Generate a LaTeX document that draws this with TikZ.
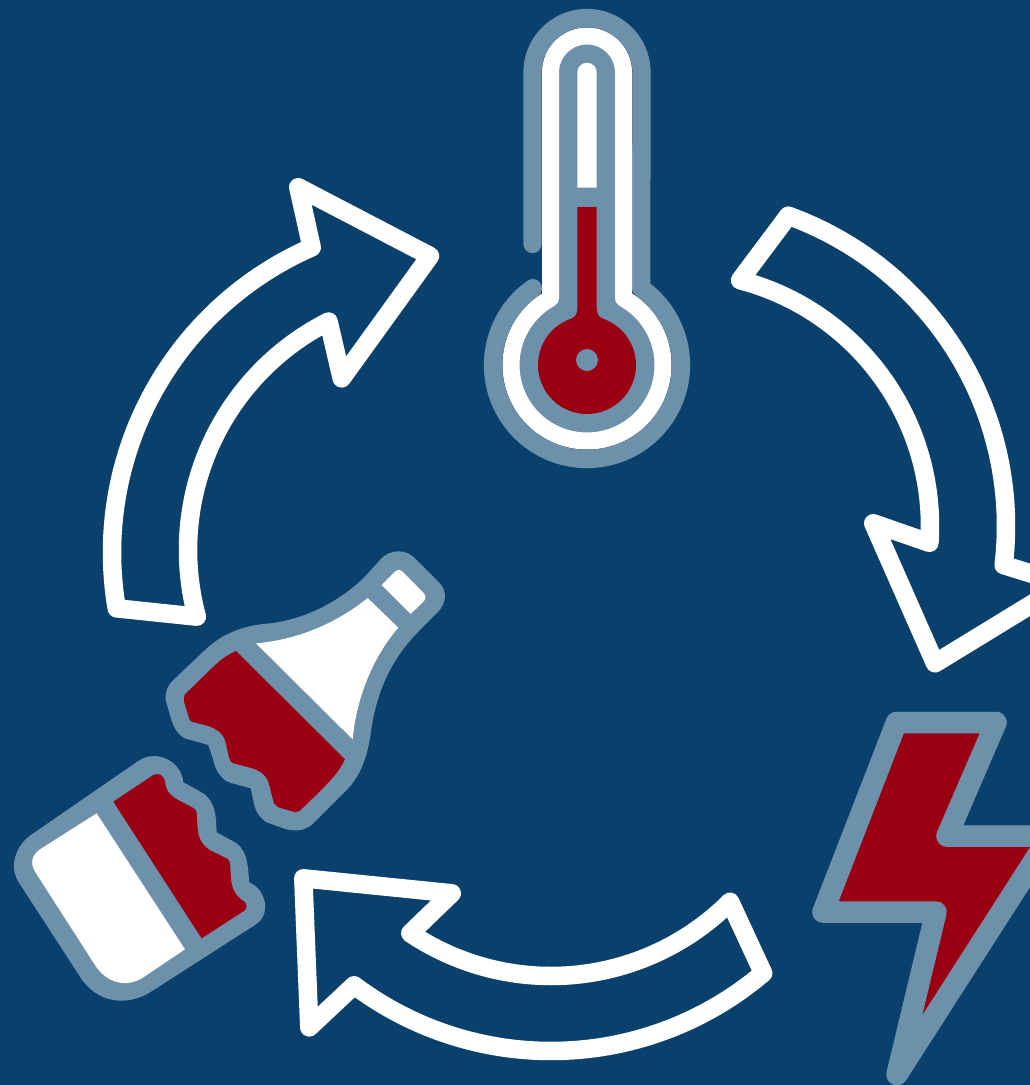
\documentclass[tikz,border=0pt]{standalone}
\usepackage{xcolor}
\usepackage{tikz}
\definecolor{navy}{HTML}{0A416C}
\definecolor{steel}{HTML}{6D91AA}
\definecolor{crimson}{HTML}{9B0012}
\tikzset{
  flow/.style={draw=white,line width=18.5pt,line join=round,line cap=round},
  tube/.style={line width=18.3pt,line join=round,line cap=round},
  arcplot/.style={domain=#1,samples=60,smooth}
}
\begin{document}
\begin{tikzpicture}[x=1pt,y=-1pt]
  \useasboundingbox (0,0) rectangle (1030,1085);
  \clip (0,0) rectangle (1030,1085);
  \fill[navy] (0,0) rectangle (1030,1085);

  \draw[flow] plot[arcplot=170.35:246.4] ({445+333*cos(\x)},{552.5+333*sin(\x)}) -- (298.3,187.3) -- (430,256) -- (341.7,378.3)
    -- plot[arcplot=243.2:164.9] ({444+256*cos(\x)},{550+256*sin(\x)}) -- cycle;
  \draw[flow] plot[arcplot=-70.1:6.8] ({676+330*cos(\x)},{526+330*sin(\x)}) -- (1064.7,584) -- (935,663.3) -- (873.3,523.3)
    -- plot[arcplot=3.8:-75.4] ({676+254*cos(\x)},{526+254*sin(\x)}) -- cycle;
  \draw[flow] plot[arcplot=49.7:126.9] ({551+328*cos(\x)},{723+328*sin(\x)}) -- (309.3,1027.3) -- (303.3,878.3) -- (451.7,893.3)
    -- plot[arcplot=123.8:44.95] ({551+253*cos(\x)},{723+253*sin(\x)}) -- cycle;

  \draw[tube,steel] (532.5,244) -- (532.5,72.5) -- plot[arcplot=180:360] ({587+54.5*cos(\x)},{72.5+54.5*sin(\x)})
    -- plot[arcplot=-54.8:234.8] ({587+94*cos(\x)},{365+94*sin(\x)});
  \filldraw[fill=steel,draw=white,line width=17pt,line join=round] plot[arcplot=-61.3:241.3] ({587+76*cos(\x)},{365+76*sin(\x)})
    -- plot[arcplot=180:360] ({587+36.5*cos(\x)},{72.5+36.5*sin(\x)}) -- cycle;
  \fill[white] (577.3,187.7) -- (577.3,72.4) arc[start angle=180,end angle=0,radius=9.7pt] -- (596.7,187.7) -- cycle;
  \fill[crimson] (587,365) circle[radius=49pt];
  \fill[crimson] (577.3,207) -- (577.3,309) .. controls (577.3,314) and (575,317) .. (571.5,318.5) -- (571.5,330) -- (602.5,330) -- (602.5,318.5)
    .. controls (599,317) and (596.7,314) .. (596.7,309) -- (596.7,207) -- cycle;
  \fill[steel] (587,360) circle[radius=11pt];

  \filldraw[fill=crimson,draw=steel,line width=21.5pt,line join=round] (896.5,722.5) -- (996,722.5) -- (947,836) -- (1050,836)
    -- (897,1074.5) -- (936,912) -- (823,912) -- cycle;

  \begin{scope}[shift={(150,540)},x=0.3333pt,y=-0.3333pt]
    \fill[steel] (690,60) .. controls (720,25) and (770,25) .. (800,60) -- (865,125) .. controls (895,155) and (890,190) .. (860,220)
      -- (810,270) .. controls (730,350) and (685,440) .. (665,560) .. controls (655,650) and (630,710) .. (590,750) -- (490,850)
      .. controls (465,875) and (430,875) .. (400,865) -- (365,852) .. controls (335,845) and (320,820) .. (313,795) -- (302,745)
      -- (240,728) .. controls (215,720) and (195,690) .. (190,660) -- (175,615) -- (105,595) .. controls (85,585) and (70,565) .. (60,525)
      -- (47,480) .. controls (45,460) and (50,440) .. (70,420) -- (160,335) .. controls (210,285) and (270,260) .. (340,252)
      .. controls (440,245) and (550,200) .. (640,115) -- cycle;
    \fill[white] (318,310) .. controls (440,300) and (560,250) .. (653,174) -- (745,263) .. controls (670,350) and (620,470) .. (608,598) -- cycle;
    \fill[crimson] (258,333) -- (585,658) .. controls (565,700) and (540,725) .. (450,812) .. controls (445,817) .. (437,817) -- (385,802)
      .. controls (377,798) .. (372,790) -- (355,725) .. controls (345,700) and (325,690) .. (300,683) -- (250,670)
      .. controls (242,665) .. (238,655) -- (225,600) .. controls (215,575) and (195,565) .. (175,558) -- (125,545)
      .. controls (118,540) .. (116,530) -- (102,485) .. controls (100,475) .. (103,465) -- (185,385) .. controls (205,365) and (230,345) .. (258,333) -- cycle;
    \fill[white] (695,135) -- (735,95) .. controls (743,88) and (750,88) .. (756,93) -- (822,160) .. controls (828,168) and (828,175) .. (823,182) -- (782,222) -- cycle;
  \end{scope}

  \begin{scope}[shift={(0,745)},x=0.3333pt,y=-0.3333pt]
    \fill[steel] (100,265) -- (415,48) .. controls (470,10) and (545,50) .. (550,112) -- (605,142) .. controls (635,160) and (645,190) .. (648,225)
      -- (650,262) -- (705,292) .. controls (735,310) and (742,345) .. (745,380) -- (748,412) .. controls (800,435) and (815,510) .. (765,540)
      -- (450,742) .. controls (380,785) and (290,775) .. (240,695) -- (55,410) .. controls (25,360) and (50,295) .. (100,265) -- cycle;
    \fill[white] (290,205) -- (120,313) .. controls (95,330) and (90,355) .. (105,380) -- (285,660) .. controls (320,715) and (380,730) .. (430,697) -- (555,613) -- cycle;
    \fill[crimson] (340,170) -- (460,90) .. controls (475,82) and (490,90) .. (495,108) .. controls (497,140) and (515,155) .. (535,165) -- (578,188)
      .. controls (587,192) .. (590,205) -- (593,250) .. controls (596,285) and (610,305) .. (635,318) -- (680,340) .. controls (687,345) .. (690,355)
      -- (693,400) .. controls (695,435) and (710,455) .. (733,470) .. controls (742,478) and (742,490) .. (733,497) -- (605,580) -- cycle;
  \end{scope}
\end{tikzpicture}
\end{document}
